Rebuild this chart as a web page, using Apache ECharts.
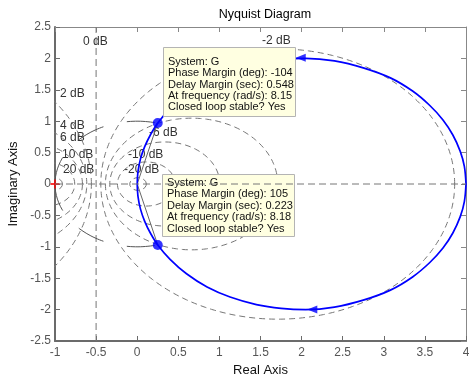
<!DOCTYPE html>
<html><head><meta charset="utf-8">
<script src="https://cdn.jsdelivr.net/npm/echarts@6/dist/echarts.min.js"></script>
<style>html,body{margin:0;padding:0;background:#fff}#c{width:469px;height:379px}</style>
</head><body><div id="c"></div>
<script>
// ---- data ----
const xMin = -1, xMax = 4, xStep = 0.5;
const yMin = -2.5, yMax = 2.5, yStep = 0.5;
// Nyquist curve (positive / negative frequency branches)
const upperRe = [0.00,0.01,0.04,0.09,0.16,0.25,0.40,0.60,0.85,1.13,1.45,1.75,2.05,2.40,2.75,3.08,3.35,3.56,3.72,3.84,3.93,3.98,4.00];
const upperIm = [0.00,0.20,0.40,0.59,0.78,0.97,1.20,1.43,1.64,1.80,1.92,1.98,2.00,1.96,1.85,1.69,1.48,1.25,1.02,0.78,0.52,0.28,0.00];
const lowerRe = [0.00,0.01,0.04,0.09,0.16,0.25,0.40,0.60,0.85,1.13,1.45,1.75,2.05,2.40,2.75,3.08,3.35,3.56,3.72,3.84,3.93,3.98,4.00];
const lowerIm = [0.00,-0.20,-0.40,-0.59,-0.78,-0.97,-1.20,-1.43,-1.64,-1.80,-1.92,-1.98,-2.00,-1.96,-1.85,-1.69,-1.48,-1.25,-1.02,-0.78,-0.52,-0.28,0.00];
// stability-margin points
const marginRe = [0.25, 0.25];
const marginIm = [0.97, -0.97];
// direction arrows
const arrowRe = [1.99, 2.13];
const arrowIm = [2.01, -2.00];
// M-circle grid levels (dB)
const mLevels = [-20, -10, -6, -4, -2, 2, 4, 6, 10, 20];
const mLabelText = ['0 dB', '-2 dB', '2 dB', '4 dB', '6 dB', '10 dB', '20 dB', '-6 dB', '-10 dB', '-20 dB'];
const tipUpper = ['System: G', 'Phase Margin (deg): -104', 'Delay Margin (sec): 0.548', 'At frequency (rad/s): 8.15', 'Closed loop stable? Yes'];
const tipLower = ['System: G', 'Phase Margin (deg): 105', 'Delay Margin (sec): 0.223', 'At frequency (rad/s): 8.18', 'Closed loop stable? Yes'];

// ---- build ----
const FONT = '"Liberation Sans", Arial, Helvetica, sans-serif';
const pairs = (a, b) => a.map((v, i) => [v, b[i]]);

function mCircle(db) {
  const M = Math.pow(10, db / 20), M2 = M * M;
  const c = -M2 / (M2 - 1), r = Math.abs(M / (M2 - 1));
  const pts = [];
  for (let a = 0; a <= 360; a += 1) {
    const t = a * Math.PI / 180;
    pts.push([c + r * Math.cos(t), r * Math.sin(t)]);
  }
  return pts;
}
function unitArc(re, im) {
  const end = Math.atan2(im, re) * 180 / Math.PI;
  const start = im >= 0 ? 180 : -180;
  const pts = [];
  const n = 60;
  for (let i = 0; i <= n; i++) {
    const a = (start + (end - start) * i / n) * Math.PI / 180;
    pts.push([Math.cos(a), Math.sin(a)]);
  }
  return pts;
}

const gridColor = '#767676';
const series = [];
mLevels.forEach(db => series.push({
  type: 'line', data: mCircle(db), symbol: 'none', silent: true, clip: true, z: 1,
  lineStyle: { color: gridColor, width: 1, type: [6, 4] }
}));
// 0 dB line
series.push({ type: 'line', data: [[-0.5, yMin], [-0.5, yMax]], symbol: 'none', silent: true, z: 1,
  lineStyle: { color: gridColor, width: 1, type: [7, 4] } });
// real axis line (drawn above the datatips)
series.push({ type: 'line', data: [[xMin, 0], [xMax, 0]], symbol: 'none', silent: true, z: 60,
  lineStyle: { color: gridColor, width: 1, type: [7, 4] } });
// unit-circle arcs and radial lines for the margins
marginRe.forEach((re, i) => {
  series.push({ type: 'line', data: unitArc(re, marginIm[i]), symbol: 'none', silent: true, z: 2,
    lineStyle: { color: '#555', width: 1, type: [28, 24] } });
  series.push({ type: 'line', data: [[0, 0], [re, marginIm[i]]], symbol: 'none', silent: true, z: 2,
    lineStyle: { color: '#666', width: 1 } });
});
// Nyquist curve
[[upperRe, upperIm], [lowerRe, lowerIm]].forEach(([r, m]) => series.push({
  type: 'line', data: pairs(r, m), symbol: 'none', smooth: 0.35, z: 5,
  lineStyle: { color: '#0000ff', width: 1.7 }
}));
series.push({ type: 'scatter', data: pairs(marginRe, marginIm), symbol: 'circle', symbolSize: 10, z: 6,
  itemStyle: { color: '#0000ff' } });
series.push({ type: 'scatter', data: pairs(arrowRe, arrowIm), symbol: 'triangle', symbolSize: [8, 10], symbolRotate: 90, z: 6,
  itemStyle: { color: '#0000ff' } });
// critical point
series.push({ type: 'scatter', data: [[-1, 0]], symbol: 'path://M4,0 L6,0 L6,4 L10,4 L10,6 L6,6 L6,10 L4,10 L4,6 L0,6 L0,4 L4,4 Z',
  symbolSize: 9, z: 7, itemStyle: { color: '#ff0000' } });

// labels for M-circles (pixel positions)
const labelPos = [[83, 42], [262, 41], [60, 94], [60, 126], [60, 138], [62, 155], [63, 170], [149, 133], [128, 155], [124, 170]];
const graphic = [];
mLabelText.forEach((t, i) => graphic.push({
  type: 'text', z: 0, silent: true,
  style: { text: t, x: labelPos[i][0], y: labelPos[i][1], fill: '#333', font: '12px ' + FONT, verticalAlign: 'middle', textVerticalAlign: 'middle' }
}));
function tipBox(lines, x, y, w, h, y0) {
  graphic.push({ type: 'rect', z: 50, silent: true, shape: { x: x, y: y, width: w, height: h },
    style: { fill: '#ffffe1', stroke: '#b4b4b4', lineWidth: 1 } });
  lines.forEach((t, i) => graphic.push({ type: 'text', z: 51, silent: true,
    style: { text: t, x: x + 4.5, y: y0 + i * 11.4, fill: '#111', font: '11px ' + FONT, verticalAlign: 'middle', textVerticalAlign: 'middle' } }));
}
tipBox(tipUpper, 163.5, 47.5, 132, 69, 61.7);
tipBox(tipLower, 162.5, 174.5, 132, 62, 183);

const axisLbl = { color: '#555', fontSize: 12, fontFamily: FONT };
const chart = echarts.init(document.getElementById('c'), null, { renderer: 'canvas' });
chart.setOption({
  animation: false,
  backgroundColor: '#fff',
  title: { text: 'Nyquist Diagram', left: 260, top: 3, textAlign: 'center',
    textStyle: { color: '#000', fontSize: 12.5, fontWeight: 'normal', fontFamily: FONT } },
  grid: { left: 55, right: 3, top: 27, bottom: 38, containLabel: false, outerBoundsMode: 'none' },
  xAxis: [
    { type: 'value', min: xMin, max: xMax, interval: xStep, position: 'bottom',
      name: 'Real Axis', nameLocation: 'middle', nameGap: 22,
      nameTextStyle: { color: '#111', fontSize: 13, fontFamily: FONT },
      axisLine: { onZero: false, lineStyle: { color: '#6b6b6b', width: 2 } },
      axisTick: { inside: true, length: 5, lineStyle: { color: '#6b6b6b' } },
      axisLabel: Object.assign({ margin: 6, hideOverlap: false }, axisLbl), splitLine: { show: false } },
    { type: 'value', min: xMin, max: xMax, interval: xStep, position: 'top',
      axisLine: { onZero: false, lineStyle: { color: '#888', width: 1 } },
      axisTick: { inside: true, length: 5, lineStyle: { color: '#888' } },
      axisLabel: { show: false }, splitLine: { show: false } }
  ],
  yAxis: [
    { type: 'value', min: yMin, max: yMax, interval: yStep, position: 'left',
      name: 'Imaginary Axis', nameLocation: 'middle', nameGap: 28, nameRotate: 90,
      nameTextStyle: { color: '#111', fontSize: 13, fontFamily: FONT },
      axisLine: { onZero: false, lineStyle: { color: '#6b6b6b', width: 2 } },
      axisTick: { inside: true, length: 5, lineStyle: { color: '#6b6b6b' } },
      axisLabel: Object.assign({ margin: 4 }, axisLbl), splitLine: { show: false } },
    { type: 'value', min: yMin, max: yMax, interval: yStep, position: 'right',
      axisLine: { onZero: false, lineStyle: { color: '#888', width: 1 } },
      axisTick: { inside: true, length: 5, lineStyle: { color: '#888' } },
      axisLabel: { show: false }, splitLine: { show: false } }
  ],
  series: series,
  graphic: graphic
});
</script></body></html>
